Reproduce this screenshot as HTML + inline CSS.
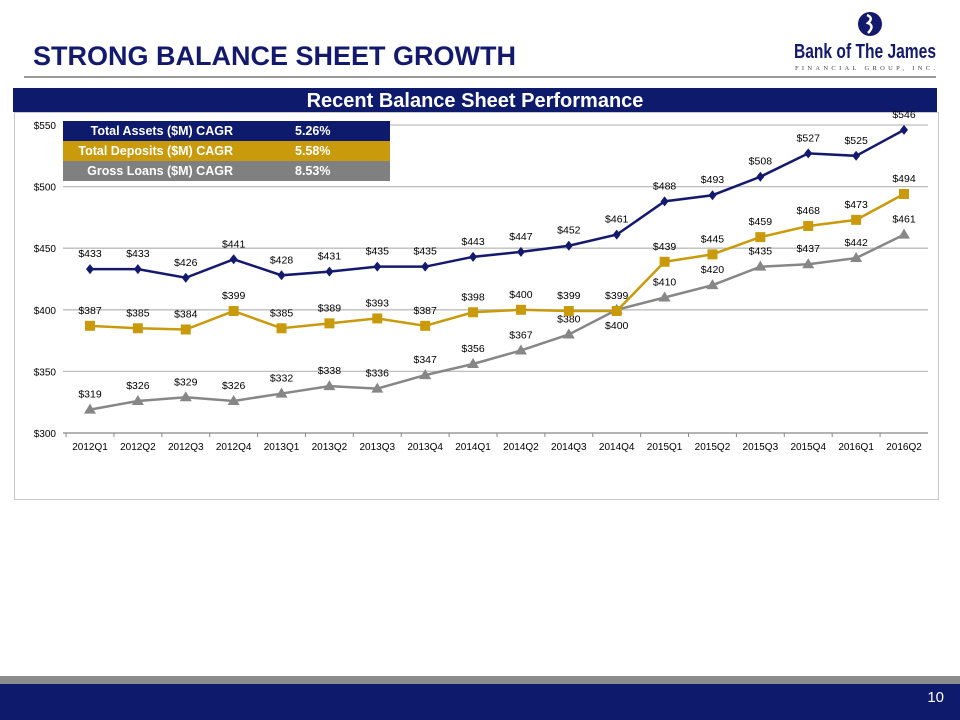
<!DOCTYPE html>
<html><head><meta charset="utf-8"><style>
body{margin:0;width:960px;height:720px;background:#fff;position:relative;overflow:hidden;font-family:"Liberation Sans",sans-serif}
.title{position:absolute;left:33px;top:41px;font-size:27px;font-weight:bold;color:#131a6e}
.rule{position:absolute;left:24px;top:76px;width:912px;height:2px;background:#9a9a9a}
.banner{position:absolute;left:13px;top:88px;width:924px;height:24px;background:#0e1a6c;color:#fff;font-weight:bold;font-size:20px;text-align:center;line-height:26px}
.box{position:absolute;left:14px;top:112px;width:925px;height:388px;border:1px solid #c8c8c8;box-sizing:border-box}
.logo{position:absolute;left:792px;top:12px;width:150px;height:64px}
.foot1{position:absolute;left:0;top:676px;width:960px;height:8px;background:#8c8c8c}
.foot2{position:absolute;left:0;top:684px;width:960px;height:36px;background:#0e1a6c;color:#fff;font-size:15px}
</style></head><body>
<div class="title">STRONG BALANCE SHEET GROWTH</div>
<div class="logo">
<svg width="150" height="64"><ellipse cx="78" cy="12" rx="12" ry="12" fill="#131a6e"/><path d="M75 3 q7 3 1 8 q7 3 0 10" stroke="#fff" stroke-width="2.5" fill="none"/>
<text x="2" y="46" font-family="Liberation Sans,sans-serif" font-weight="bold" font-size="20" fill="#131a6e" textLength="142" lengthAdjust="spacingAndGlyphs">Bank of The James</text>
<text x="3" y="58" font-family="Liberation Serif,serif" font-size="6.5" fill="#444" textLength="140" lengthAdjust="spacing">FINANCIAL GROUP, INC.</text></svg></div>
<div class="rule"></div>
<div class="banner">Recent Balance Sheet Performance</div>
<div class="box"></div>
<svg id="chart" style="position:absolute;left:0;top:0" width="960" height="720"></svg>
<div class="foot1"></div>
<div class="foot2"><span style="position:absolute;right:16px;top:5px">10</span></div>
<script>
const categories=["2012Q1","2012Q2","2012Q3","2012Q4","2013Q1","2013Q2","2013Q3","2013Q4","2014Q1","2014Q2","2014Q3","2014Q4","2015Q1","2015Q2","2015Q3","2015Q4","2016Q1","2016Q2"];
const assets=[433,433,426,441,428,431,435,435,443,447,452,461,488,493,508,527,525,546];
const deposits=[387,385,384,399,385,389,393,387,398,400,399,399,439,445,459,468,473,494];
const loans=[319,326,329,326,332,338,336,347,356,367,380,400,410,420,435,437,442,461];
const yTicks=[300,350,400,450,500,550];
const cagrLabels=["Total Assets ($M) CAGR","Total Deposits ($M) CAGR","Gross Loans ($M) CAGR"];
const cagrValues=["5.26%","5.58%","8.53%"];
const NS="http://www.w3.org/2000/svg";
const svg=document.getElementById('chart');
const x0=90,xStep=(904-90)/17,yTop=125,yBot=433,vMin=300,vMax=550,plotL=63,plotR=928;
const X=i=>x0+i*xStep;
const Y=v=>yBot-(v-vMin)/(vMax-vMin)*(yBot-yTop);
function mk(t,a){const e=document.createElementNS(NS,t);for(const k in a)e.setAttribute(k,a[k]);svg.appendChild(e);return e;}
yTicks.forEach(v=>{
  const g=mk('line',{x1:plotL,x2:plotR,y1:Y(v),y2:Y(v),stroke:v===300?'#888':'#bdbdbd','stroke-width':1.3});
  
  
  const t=mk('text',{x:56,y:Y(v)+4,'text-anchor':'end','font-size':10,fill:'#000','font-family':'Liberation Sans,sans-serif'});
  t.textContent='$'+v;
  
  
});
categories.forEach((c,i)=>{
  const tk=mk('line',{x1:X(i)-xStep/2,x2:X(i)-xStep/2,y1:yBot,y2:yBot+4,stroke:'#888'});
  
  
  const t=mk('text',{x:X(i),y:yBot+17,'text-anchor':'middle','font-size':10,fill:'#000','font-family':'Liberation Sans,sans-serif'});
  t.textContent=c;
  
  
});
function series(vals,color,shape,name,labelBelowIdx){
  const p=mk('polyline',{points:vals.map((v,i)=>X(i)+','+Y(v)).join(' '),fill:'none',stroke:color,'stroke-width':2.5});
  
  
  vals.forEach((v,i)=>{
    const x=X(i),y=Y(v);let m;
    if(shape==='d')m=mk('polygon',{points:`${x},${y-5} ${x+4},${y} ${x},${y+5} ${x-4},${y}`,fill:color});
    else if(shape==='s')m=mk('rect',{x:x-5,y:y-5,width:10,height:10,fill:color});
    else m=mk('polygon',{points:`${x},${y-6} ${x+6},${y+4} ${x-6},${y+4}`,fill:color});
    
    
    const below=labelBelowIdx.includes(i);
    const t=mk('text',{x:x,y:below?y+19:y-12,'text-anchor':'middle','font-size':10.5,fill:'#000','font-family':'Liberation Sans,sans-serif'});
    t.textContent='$'+v;
    
    
  });
}
series(loans,'#878787','t','loans',[11]);
series(deposits,'#c99a0b','s','deposits',[]);
series(assets,'#131a6e','d','assets',[]);
const bgs=['#0e1a6c','#c99a0b','#808080'];
cagrLabels.forEach((l,i)=>{
  const r=mk('rect',{x:63,y:121+i*20,width:327,height:20,fill:bgs[i]});
  
  
  const t=mk('text',{x:233,y:135+i*20,'text-anchor':'end','font-size':12.5,'font-weight':'bold',fill:'#fff','font-family':'Liberation Sans,sans-serif'});
  t.textContent=l;
  
  
  const v=mk('text',{x:295,y:135+i*20,'font-size':12.5,'font-weight':'bold',fill:'#fff','font-family':'Liberation Sans,sans-serif'});
  v.textContent=cagrValues[i];
  
  
});
</script>
</body></html>
